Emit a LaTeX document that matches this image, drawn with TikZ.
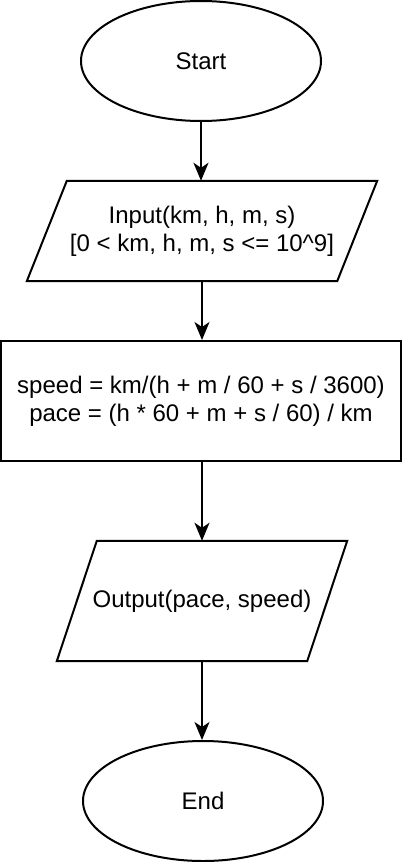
\documentclass[tikz,border=0pt]{standalone}
\usepackage{fontspec}
\setmainfont{Liberation Sans}
\usetikzlibrary{arrows.meta,shapes.geometric}
\begin{document}
\begin{tikzpicture}[x=1pt,y=-1pt,
  every node/.style={font=\fontsize{24}{28}\selectfont, align=center, inner sep=0pt},
  term/.style={draw, ellipse, line width=2pt, minimum width=240pt, minimum height=120pt},
  io/.style={minimum height=100pt},
  proc/.style={draw, line width=2pt, minimum width=400pt, minimum height=120pt},
  flow/.style={line width=2pt, -{Stealth[length=18pt,width=15pt,inset=5pt]}},
  outline/.style={line width=2pt, line join=miter}]
\useasboundingbox (0,0) rectangle (402,862);
\node[term] (start) at (201,61) {Start};
\node[io, minimum width=310pt, minimum height=100pt] (in) at (202,231) {Input(km, h, m, s)\\{}[0 < km, h, m, s <= 10\^{}9]};
\draw[outline] ([xshift=20pt]in.north west) -- ([xshift=20pt]in.north east) -- ([xshift=-20pt]in.south east) -- ([xshift=-20pt]in.south west) -- cycle;
\node[proc] (calc) at (201,401) {speed = km/(h + m / 60 + s / 3600)\\pace = (h * 60 + m + s / 60) / km};
\node[io, minimum width=250pt, minimum height=120pt] (out) at (202,601) {Output(pace, speed)};
\draw[outline] ([xshift=20pt]out.north west) -- ([xshift=20pt]out.north east) -- ([xshift=-20pt]out.south east) -- ([xshift=-20pt]out.south west) -- cycle;
\node[term] (end) at (203,801) {End};
\draw[flow] (start.south) -- (start.south |- in.north);
\draw[flow] (in.south) -- (in.south |- calc.north);
\draw[flow] (out.north |- calc.south) -- (out.north);
\draw[flow] (out.south) -- (out.south |- end.north);
\end{tikzpicture}
\end{document}
